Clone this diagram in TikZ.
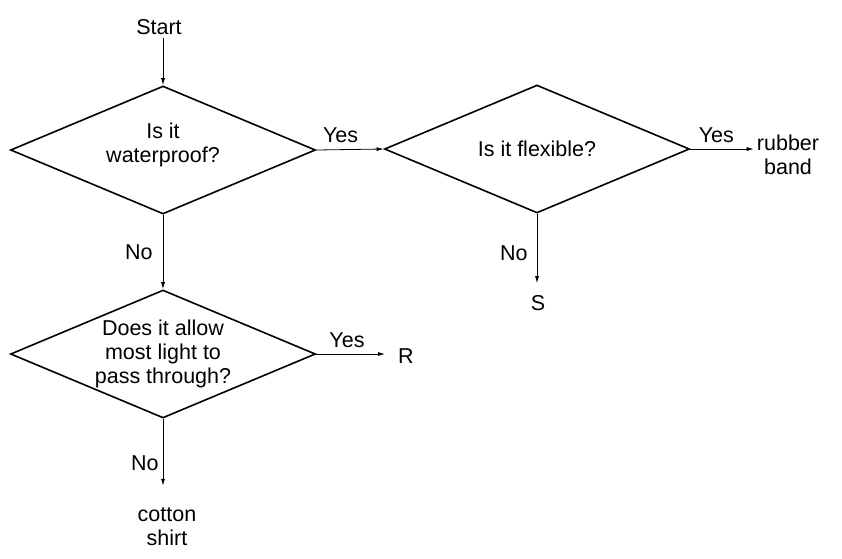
\documentclass[tikz,border=0pt]{standalone}
\usepackage{fontspec}
\setmainfont{Liberation Sans}
\usetikzlibrary{shapes.geometric, arrows.meta}

\begin{document}
\begin{tikzpicture}[x=1pt, y=-1pt,
    every node/.style={font=\fontsize{21.5}{24}\selectfont},
    decision/.style={diamond, draw, line width=1.6pt, minimum width=305pt,
      minimum height=128pt, aspect=2.38, inner sep=0pt, align=center},
    leaf/.style={align=center, inner sep=3pt},
    tag/.style={inner sep=0pt},
    link/.style={-{Latex[length=7pt, width=4pt]}, line width=0.8pt}]
  \useasboundingbox (0,0) rectangle (842,558);

  % the three questions
  \node[decision] (waterproof) at (163,150) {Is it\\waterproof?\\[-10pt]\mbox{}};
  \node[decision] (flexible) at (537,149) {Is it flexible?};
  \node[decision] (light) at (163,354) {Does it allow\\most light to\\pass through?};

  % start and answers
  \node[leaf] (start) at (159,27) {Start};
  \node[leaf] (rubber) at (788,155) {rubber\\band};
  \node[leaf] (s) at (538,303) {S};
  \node[leaf] (r) at (406,356) {R};
  \node[leaf] (shirt) at (167,527) {cotton\\shirt};

  % connectors
  \draw[link] (start.south -| waterproof.north) -- (waterproof.north);
  \draw[link] (waterproof.east) -- node[tag, above=7pt, pos=0.36] {Yes} (flexible.west);
  \draw[link] (waterproof.south) -- node[tag, left=10pt] {No} (light.north);
  \draw[link] (flexible.east) -- node[tag, above=6pt, pos=0.41] {Yes} (flexible.east -| rubber.west);
  \draw[link, shorten >=9pt] (flexible.south) -- node[tag, left=9pt, pos=0.5] {No} (flexible.south |- s.north);
  \draw[link, shorten >=10pt] (light.east) -- node[tag, above=6pt, pos=0.39] {Yes} (light.east -| r.west);
  \draw[link, shorten >=19pt] (light.south) -- node[tag, left=4pt, pos=0.52] {No} (light.south |- shirt.north);
\end{tikzpicture}
\end{document}
